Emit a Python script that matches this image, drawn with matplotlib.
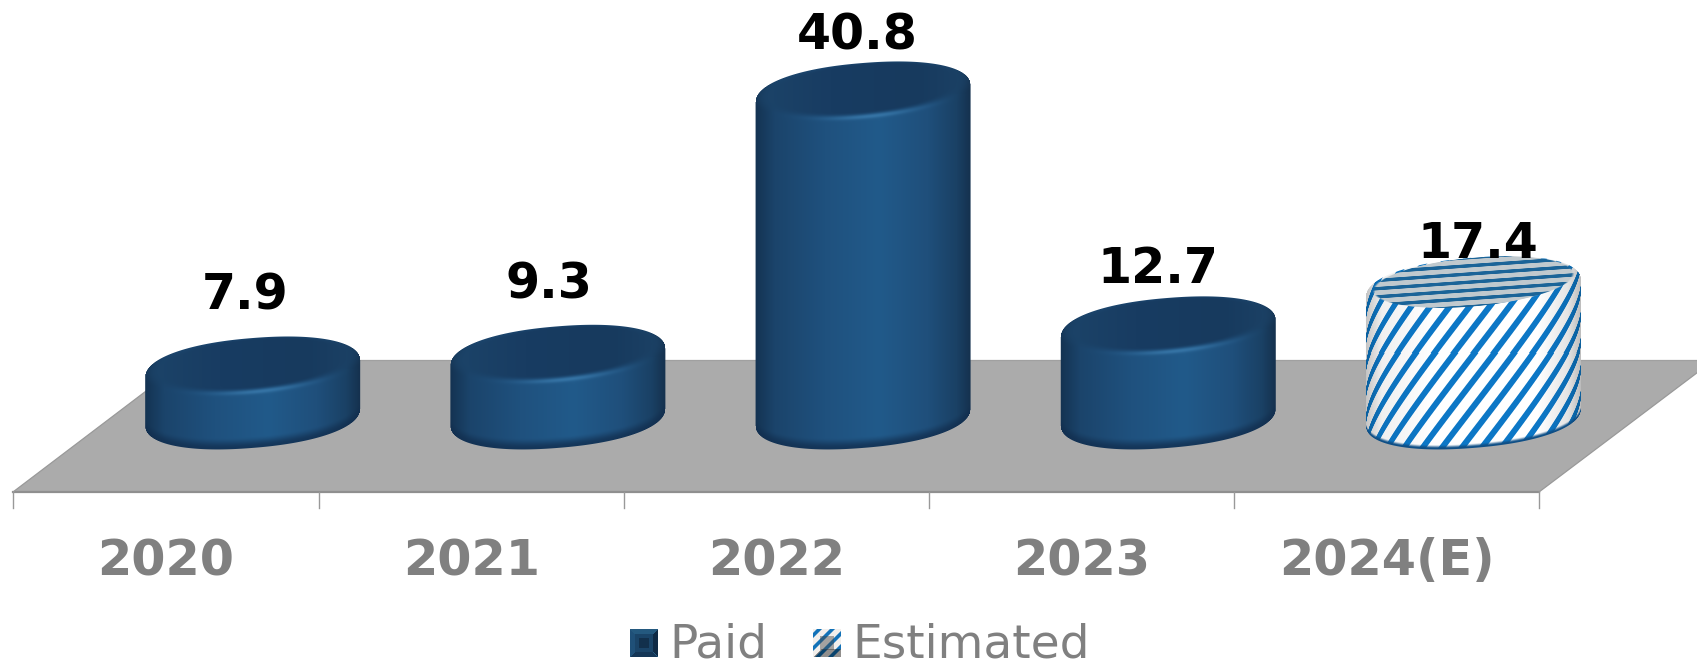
import matplotlib
matplotlib.use('Agg')
import matplotlib.pyplot as plt
import numpy as np
from matplotlib.colors import to_rgb
from matplotlib.patches import Polygon

# Values
categories = ['2020', '2021', '2022', '2023', '2024(E)']
values = [7.9, 9.3, 40.8, 12.7, 17.4]
estimated = [False, False, False, False, True]
legend_labels = ['Paid', 'Estimated']

W, H = 1697, 665
CAT_STEP = 305.2      # pixels per category
CAT_ZERO = 166.0      # pixel of the first category on the front edge
UNIT = 8.36           # pixels per value unit
FLOOR_VALUE = 2.15    # value where the cylinders stand
FLOOR_Y = 417.0       # pixel of that value
DEPTH = 0.284         # cylinders stand further back, in categories
GREY = '#808080'

fig = plt.figure(figsize=(W / 100, H / 100), dpi=100)
ax = fig.add_axes([0, 0, 1, 1])
ax.set_xlim(-CAT_ZERO / CAT_STEP, (W - CAT_ZERO) / CAT_STEP)
ax.set_ylim(FLOOR_VALUE + (FLOOR_Y - H) / UNIT, FLOOR_VALUE + FLOOR_Y / UNIT)
ax.axis('off')


def dx(px):
    return (np.asarray(px, dtype=float) - CAT_ZERO) / CAT_STEP


def dy(py):
    return FLOOR_VALUE + (FLOOR_Y - np.asarray(py, dtype=float)) / UNIT


def pts(points):
    return [(dx(a), dy(b)) for a, b in points]


def smooth(a, b, t):
    k = np.clip((t - a) / (b - a), 0, 1)
    return k * k * (3 - 2 * k)


def ramp(u, stops):
    pos = [s[0] for s in stops]
    rgb = np.array([to_rgb(s[1]) for s in stops])
    return np.dstack([np.interp(u, pos, rgb[:, c]) for c in range(3)])


def mix(a, b, t):
    return a * (1 - t[..., None]) + b * t[..., None]


side_stops = [(-1, '#143352'), (-0.82, '#1b446b'), (-0.35, '#1f517e'), (0.15, '#215a8a'),
              (0.6, '#1f4f7b'), (0.87, '#1a4165'), (1, '#15314e')]
top_stops = [(-1, '#1c4469'), (-0.3, '#183c62'), (0.5, '#173a5e'), (1, '#1c4266')]
paper_stops = [(-1, '#c4c4c4'), (-0.85, '#f0f0f0'), (-0.4, '#ffffff'), (0.6, '#ffffff'),
               (0.88, '#e4e4e4'), (1, '#bcbcbc')]


def draw_cylinder(pos, value, hatched):
    half, b, tilt = 107.5, 30.9, -8.5
    cx, base_disp = ax.transData.transform((pos + DEPTH, FLOOR_VALUE))
    _, top_disp = ax.transData.transform((pos + DEPTH, value))
    yb, yt = H - base_disp, H - top_disp

    xs = np.arange(int(cx - half) - 2, int(cx + half) + 3)
    ys = np.arange(int(yt - b - abs(tilt)) - 3, int(yb + b + abs(tilt)) + 4)
    X, Y = np.meshgrid(xs + 0.5, ys + 0.5)
    u = np.clip((X - cx) / half, -1, 1)
    # slightly squared ends give the rounded shoulders
    w = (1 - np.abs(u) ** 2.2) ** (1 / 2.2)

    back = yt - b * w + tilt * u
    front_base = yb + b * w + tilt * u
    alpha = np.clip(np.minimum(np.minimum(half - np.abs(X - cx), Y - back), front_base - Y) + 0.5, 0, 1)

    inset = 16 if hatched else 14
    bi = b - (inset - 3) / 2
    ui = (X - cx) / (half - 8)
    vi = (Y - (yt - (inset - 3) / 2) - tilt * np.clip(ui, -1, 1)) / bi
    r = np.sqrt(ui ** 2 + vi ** 2)
    to_base = front_base - Y

    if hatched:
        # stripes wrap round the side, flat ones on the lid
        arc = half * (0.6 * u + 0.4 * np.arcsin(u))
        phase = (arc + (Y - yt) / 1.3) / 20.0
        stripe = smooth(0.23, 0.15, np.abs(phase - np.floor(phase) - 0.5))
        rgb = ramp(u, paper_stops)
        shade = rgb[..., 0] * 0.85 + 0.15
        rgb = mix(rgb, np.dstack([0.05 * shade, 0.47 * shade, 0.78 * shade]), stripe)
        lid_phase = (Y + 0.07 * (X - cx)) / 8.2
        lid_line = smooth(0.26, 0.16, np.abs(lid_phase - np.floor(lid_phase) - 0.5))
        lid = mix(np.ones_like(rgb) * to_rgb('#c0c9ce'), np.ones_like(rgb) * to_rgb('#1b6498'), lid_line)
        rgb = mix(rgb, lid, smooth(1.02, 0.98, r))
        rgb = mix(rgb, np.ones_like(rgb) * to_rgb('#0f4f86'), smooth(5, 1, to_base))
    else:
        rgb = ramp(u, side_stops)
        rgb = mix(rgb, ramp(u, top_stops), smooth(1.16, 0.9, r))
        glow = np.exp(-((r - 1.12) / 0.09) ** 2) * np.exp(-((u - 0.08) / 0.4) ** 2) * (Y > yt)
        rgb = mix(rgb, np.ones_like(rgb) * to_rgb('#3c7cae'), 0.75 * glow)
        rgb = mix(rgb, np.ones_like(rgb) * to_rgb('#122f50'), 0.8 * smooth(12, 1, to_base))

    ax.imshow(np.dstack([np.clip(rgb, 0, 1), alpha]), interpolation='nearest', aspect='auto', zorder=3,
              extent=(dx(xs[0]), dx(xs[-1] + 1), dy(ys[-1] + 1), dy(ys[0])))


# Floor of the chart
ax.add_patch(Polygon(pts([(13, 492), (1539, 492), (1714, 360), (187, 360)]), closed=True,
                     facecolor='#ababab', edgecolor='none', zorder=1))
ax.plot(*zip(*pts([(13, 492), (1539, 492)])), color='#8f8f8f', lw=1.6, zorder=2)
ax.plot(*zip(*pts([(13, 492), (187, 360)])), color='#999999', lw=0.9, zorder=2)
ax.plot(*zip(*pts([(1539, 492), (1714, 360)])), color='#999999', lw=0.9, zorder=2)
ax.plot(*zip(*pts([(187, 360), (1697, 360)])), color='#a0a0a0', lw=0.9, zorder=2)

for i in range(len(categories) + 1):
    ax.plot([i - 0.5, i - 0.5], [dy(492), dy(508)], color='#999999', lw=1.0, zorder=2)

label_dx = [-8, -9, -6, -10, 4]
label_baseline = [310, 299, 50, 283, 258]
for i, (cat, val) in enumerate(zip(categories, values)):
    draw_cylinder(i, val, estimated[i])
    ax.text(i, dy(575), cat, ha='center', va='baseline', color=GREY,
            fontsize=35.5, fontweight='bold')
    ax.text(i + DEPTH + label_dx[i] / CAT_STEP, dy(label_baseline[i]), f'{val:.1f}', ha='center',
            va='baseline', color='black', fontsize=35.3, fontweight='bold', zorder=5)


# Legend keys
def key_image(x0, hatched):
    xs = np.arange(28)
    X, Y = np.meshgrid(xs + 0.5, xs + 0.5)
    if hatched:
        phase = (X + Y) / 13.0
        line = smooth(0.24, 0.15, np.abs(phase - np.floor(phase) - 0.5))
        rgb = mix(np.ones((28, 28, 3)) * to_rgb('#f2efec'), np.ones((28, 28, 3)) * to_rgb('#1272b8'), line)
        rgb[(Y > 28 - X) & (Y > 20)] *= 0.6
        inner = (np.abs(X - 14) < 7) & (np.abs(Y - 14) < 7)
        rgb[inner] = rgb[inner] * 0.55 + 0.12
    else:
        rgb = np.ones((28, 28, 3)) * to_rgb('#24597f')
        rgb[Y > X] = to_rgb('#1f5078')
        rgb[(Y > 28 - X) & (Y < X)] = to_rgb('#0f2a45')
        rgb[(Y > 28 - X) & (Y > X)] = to_rgb('#143656')
        rgb[(np.abs(X - 14) < 9) & (np.abs(Y - 14) < 9)] = to_rgb('#1a4468')
        rgb[(np.abs(X - 14) < 5) & (np.abs(Y - 14) < 5)] = to_rgb('#12304c')
    ax.imshow(rgb, interpolation='nearest', aspect='auto', zorder=4,
              extent=(dx(x0), dx(x0 + 28), dy(657), dy(629)))


key_image(630, False)
key_image(813, True)
ax.text(dx(669), dy(658), legend_labels[0], color=GREY, fontsize=33.8, va='baseline')
ax.text(dx(852), dy(658), legend_labels[1], color=GREY, fontsize=33.8, va='baseline')

ax.set_xlim(-CAT_ZERO / CAT_STEP, (W - CAT_ZERO) / CAT_STEP)
ax.set_ylim(FLOOR_VALUE + (FLOOR_Y - H) / UNIT, FLOOR_VALUE + FLOOR_Y / UNIT)

plt.savefig('out.png', dpi=100)
